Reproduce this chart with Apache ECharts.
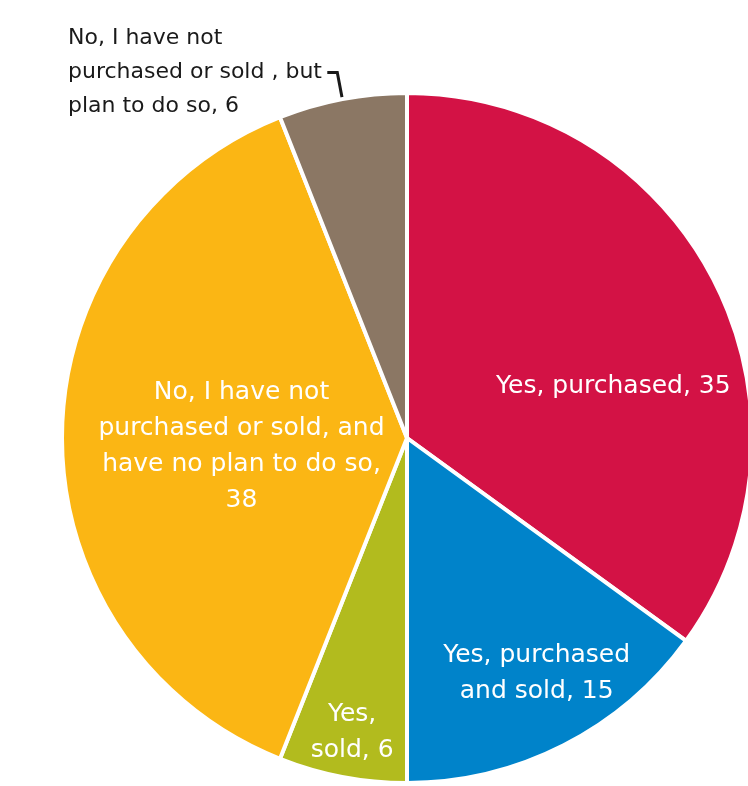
<!DOCTYPE html>
<html><head><meta charset="utf-8">
<script src="https://cdn.jsdelivr.net/npm/echarts@6/dist/echarts.min.js"></script>
<style>html,body{margin:0;padding:0;background:#fff}#c{width:748px;height:786px}</style>
</head><body><div id="c"></div>
<script>
const categories = [
  'Yes, purchased',
  'Yes, purchased\nand sold',
  'Yes,\nsold',
  'No, I have not\npurchased or sold, and\nhave no plan to do so,\n',
  'No, I have not\npurchased or sold , but\nplan to do so'
];
const values = [35, 15, 6, 38, 6];
const colors = ['#D31245', '#0083CA', '#B2BB1E', '#FBB614', '#8B7764'];
const labelSep = [', ', ', ', ', ', '', ', '];
const labelOffsets = [[50, 28], [50, 79], [-22, 122], [10, 8], [0, 0]];

const chart = echarts.init(document.getElementById('c'), null, {renderer: 'canvas'});
const data = categories.map((name, i) => {
  const item = {
    name: name,
    value: values[i],
    itemStyle: {color: colors[i]},
    label: {
      formatter: name + labelSep[i] + values[i]
    }
  };
  if (i < 4) {
    item.label.position = 'inside';
    item.label.offset = labelOffsets[i];
    item.label.color = '#fff';
  } else {
    item.label.position = 'outside';
    item.label.alignTo = 'edge';
    item.label.edgeDistance = 68;
    item.label.fontSize = 22;
    item.label.lineHeight = 34;
    item.label.padding = [0, 0, 12, 0];
    item.label.color = '#1a1a1a';
    item.labelLine = {show: true, length: 27, length2: 10, lineStyle: {color: '#1a1a1a', width: 3}};
  }
  return item;
});
chart.setOption({
  animation: false,
  series: [{
    type: 'pie',
    center: [407, 438],
    radius: [0, 345],
    startAngle: 90,
    clockwise: true,
    avoidLabelOverlap: false,
    itemStyle: {borderColor: '#fff', borderWidth: 4},
    label: {
      fontFamily: 'DejaVu Sans',
      fontSize: 25,
      lineHeight: 36,
      align: 'center'
    },
    labelLine: {show: false},
    emphasis: {disabled: true},
    data: data
  }]
});
</script></body></html>
